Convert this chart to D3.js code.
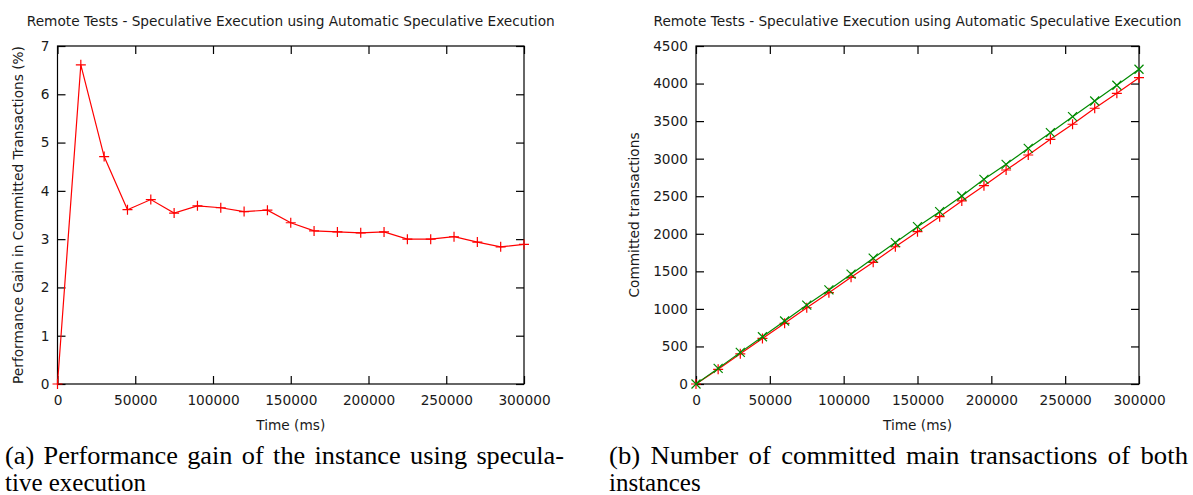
<!DOCTYPE html>
<html>
<head>
<meta charset="utf-8">
<script src="https://cdn.jsdelivr.net/npm/d3@7"></script>
<style>
  html, body { margin: 0; padding: 0; background: #fff; }
  svg { display: block; }
  text { font-family: "DejaVu Sans", sans-serif; fill: #1a1a1a; }
  .caption { font-family: "Liberation Serif", "DejaVu Serif", serif; fill: #000; }
</style>
</head>
<body>
<svg id="chart" width="1193" height="495"></svg>
<script>
// ---- data ----
const timeMs = [0, 15000, 30000, 45000, 60000, 75000, 90000, 105000, 120000, 135000, 150000,
                165000, 180000, 195000, 210000, 225000, 240000, 255000, 270000, 285000, 300000];
const gainPct = [0, 6.61, 4.71, 3.61, 3.82, 3.54, 3.69, 3.65, 3.57, 3.60, 3.34,
                 3.17, 3.15, 3.13, 3.15, 3.00, 3.00, 3.05, 2.94, 2.84, 2.89];
const committedRed = [0, 195, 402, 607, 808, 1015, 1216, 1420, 1620, 1827, 2028,
                      2228, 2437, 2640, 2849, 3049, 3258, 3458, 3671, 3870, 4078];
const committedGreen = [0, 208, 421, 629, 839, 1051, 1253, 1462, 1675, 1883, 2095,
                        2294, 2503, 2725, 2925, 3138, 3346, 3559, 3768, 3977, 4190];
const xTicks = [0, 50000, 100000, 150000, 200000, 250000, 300000];
const yTicksGain = [0, 1, 2, 3, 4, 5, 6, 7];
const yTicksCommitted = [0, 500, 1000, 1500, 2000, 2500, 3000, 3500, 4000, 4500];
const chartTitle = "Remote Tests - Speculative Execution using Automatic Speculative Execution";
const xLabel = "Time (ms)";
const yLabelGain = "Performance Gain in Committed Transactions (%)";
const yLabelCommitted = "Committed transactions";
const captionA = ["(a) Performance gain of the instance using specula-", "tive execution"];
const captionB = ["(b) Number of committed main transactions of both", "instances"];

const svg = d3.select("#chart");
const TICK = 8;
const FS = 13.7;

function plusPath(s) { return `M${-s},0H${s}M0,${-s}V${s}`; }
function crossPath(s) { return `M${-s},${-s}L${s},${s}M${-s},${s}L${s},${-s}`; }

function panel(cfg) {
  const { left, right, top, bottom } = cfg.box;
  const x = d3.scaleLinear().domain([0, 300000]).range([left, right]);
  const y = d3.scaleLinear().domain(cfg.yDomain).range([bottom, top]);
  const g = svg.append("g");

  g.append("rect").attr("x", left).attr("y", top).attr("width", right - left).attr("height", bottom - top)
    .attr("fill", "none").attr("stroke", "#000").attr("stroke-width", 1.2);

  const xb = g.append("g").attr("transform", `translate(0,${bottom})`)
    .call(d3.axisBottom(x).tickValues(xTicks).tickFormat(d3.format("d")).tickSizeInner(-TICK).tickSizeOuter(0).tickPadding(11));
  const xt = g.append("g").attr("transform", `translate(0,${top})`)
    .call(d3.axisTop(x).tickValues(xTicks).tickFormat("").tickSizeInner(-TICK).tickSizeOuter(0));
  const yl = g.append("g").attr("transform", `translate(${left},0)`)
    .call(d3.axisLeft(y).tickValues(cfg.yTicks).tickFormat(d3.format("d")).tickSizeInner(-TICK).tickSizeOuter(0).tickPadding(8));
  const yr = g.append("g").attr("transform", `translate(${right},0)`)
    .call(d3.axisRight(y).tickValues(cfg.yTicks).tickFormat("").tickSizeInner(-TICK).tickSizeOuter(0));
  [xb, xt, yl, yr].forEach(a => {
    a.select(".domain").remove();
    a.selectAll("line").attr("stroke", "#000").attr("stroke-width", 1.2);
    a.selectAll("text").attr("font-family", "DejaVu Sans, sans-serif").attr("font-size", FS).attr("fill", "#1a1a1a");
  });

  cfg.series.forEach(s => {
    const pts = timeMs.map((t, i) => [x(t), y(s.values[i])]);
    g.append("path").attr("d", d3.line()(pts)).attr("fill", "none").attr("stroke", s.color).attr("stroke-width", 1.2);
    g.selectAll(null).data(pts).enter().append("path")
      .attr("transform", d => `translate(${d[0]},${d[1]})`)
      .attr("d", s.marker === "plus" ? plusPath(5) : crossPath(4.5))
      .attr("fill", "none").attr("stroke", s.color).attr("stroke-width", 1.2);
  });

  const cx = (left + right) / 2;
  g.append("text").attr("x", cx).attr("y", 26).attr("text-anchor", "middle").attr("font-size", FS).text(chartTitle);
  g.append("text").attr("x", cx).attr("y", 430).attr("text-anchor", "middle").attr("font-size", FS).text(xLabel);
  g.append("text").attr("transform", `translate(${cfg.yLabelX},${(top + bottom) / 2}) rotate(-90)`)
    .attr("text-anchor", "middle").attr("dy", "0.35em").attr("font-size", FS).text(cfg.yLabel);

  // caption (first line justified to the column width, like LaTeX)
  cfg.caption.forEach((line, i) => {
    const t = g.append("text").attr("class", "caption").attr("x", cfg.captionX).attr("y", 464 + i * 27)
      .attr("font-size", 25).text(line);
    if (i === 0) {
      const natural = t.node().getComputedTextLength();
      const spaces = (line.match(/ /g) || []).length;
      const extra = (cfg.captionWidth - natural) / spaces;
      if (extra > 0) {
        t.attr("word-spacing", extra * 0.4)
         .attr("textLength", cfg.captionWidth)
         .attr("lengthAdjust", "spacingAndGlyphs");
      }
    }
  });
}

panel({
  box: { left: 57.5, right: 524, top: 46, bottom: 384 },
  yDomain: [0, 7], yTicks: yTicksGain, yLabel: yLabelGain, yLabelX: 18,
  series: [{ values: gainPct, color: "#ff0000", marker: "plus" }],
  caption: captionA, captionX: 5, captionWidth: 559
});
panel({
  box: { left: 696, right: 1139, top: 46, bottom: 384 },
  yDomain: [0, 4500], yTicks: yTicksCommitted, yLabel: yLabelCommitted, yLabelX: 634,
  series: [{ values: committedRed, color: "#ff0000", marker: "plus" },
           { values: committedGreen, color: "#008a00", marker: "cross" }],
  caption: captionB, captionX: 609, captionWidth: 579
});
</script>
</body>
</html>
